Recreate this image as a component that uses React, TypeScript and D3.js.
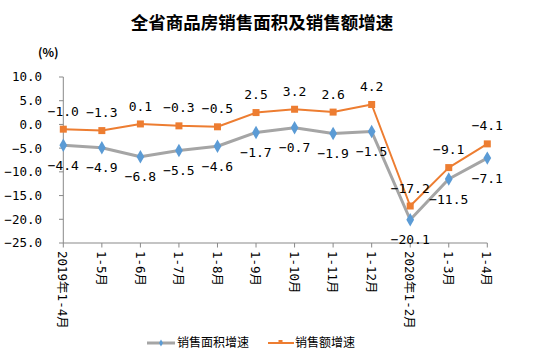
import React from "react";
import * as d3 from "d3";

const categories = ["2019年1-4月", "1-5月", "1-6月", "1-7月", "1-8月", "1-9月", "1-10月", "1-11月", "1-12月", "2020年1-2月", "1-3月", "1-4月"];
const areaGrowth = [-4.4, -4.9, -6.8, -5.5, -4.6, -1.7, -0.7, -1.9, -1.5, -20.1, -11.5, -7.1];
const amountGrowth = [-1.0, -1.3, 0.1, -0.3, -0.5, 2.5, 3.2, 2.6, 4.2, -17.2, -9.1, -4.1];
const yTicks = [10, 5, 0, -5, -10, -15, -20, -25];
const seriesNames = ["销售面积增速", "销售额增速"];
const title = "全省商品房销售面积及销售额增速";

const W = 555, H = 356;
const monoFont = "'DejaVu Sans Mono', 'Noto Sans CJK SC', monospace";
const cjkFont = "'Noto Sans CJK SC', sans-serif";

export default function App() {
  const x = d3.scalePoint<string>().domain(categories).range([63.3, 487.3]).padding(0);
  const y = d3.scaleLinear().domain([-25, 10]).range([243, 77]);
  const line = d3.line<number>().x((_, i) => x(categories[i])!).y(d => y(d));
  const gray = "#a5a5a5", blue = "#5b9bd5", orange = "#ed7d31";
  const diamond = d3.symbol().type(d3.symbolDiamond).size(52)()!;
  const fmt = d3.format(".1f");

  return (
    <svg width={W} height={H} style={{ position: "absolute", left: 0, top: 0, background: "#fff" }} xmlns="http://www.w3.org/2000/svg">
      <text x={262} y={29} textAnchor="middle" fontFamily={cjkFont} fontWeight="bold" fontSize={17.5} fill="#000">{title}</text>
      <text x={38} y={57} fontFamily={cjkFont} fontWeight="bold" fontSize={12} fill="#000">(%)</text>

      {/* y axis */}
      <line x1={63.3} x2={63.3} y1={y(10)} y2={y(-25)} stroke="#898989" strokeWidth={1} />
      {yTicks.map(t => (
        <g key={t}>
          <line x1={59} x2={63.3} y1={y(t)} y2={y(t)} stroke="#898989" />
          <text x={42} y={y(t)} dy="0.35em" textAnchor="end" fontFamily={monoFont} fontSize={12.5} fill="#000">{fmt(t)}</text>
        </g>
      ))}
      {/* x axis */}
      <line x1={63.3} x2={487.3} y1={y(-25)} y2={y(-25)} stroke="#898989" />
      {categories.map(c => (
        <g key={c}>
          <line x1={x(c)!} x2={x(c)!} y1={y(-25)} y2={y(-25) + 4.5} stroke="#898989" />
          <text transform={`translate(${x(c)! - 0.5},${251}) rotate(90)`} dy="0.35em" textAnchor="start" fontFamily={monoFont} fontSize={12.5} fill="#000">{c}</text>
        </g>
      ))}

      {/* series lines */}
      <path d={line(areaGrowth)!} fill="none" stroke={gray} strokeWidth={3} strokeLinejoin="round" />
      <path d={line(amountGrowth)!} fill="none" stroke={orange} strokeWidth={2} strokeLinejoin="round" />
      {areaGrowth.map((v, i) => (
        <path key={"a" + i} d={diamond} transform={`translate(${x(categories[i])},${y(v)})`} fill={blue} />
      ))}
      {amountGrowth.map((v, i) => (
        <rect key={"b" + i} x={x(categories[i])! - 3.5} y={y(v) - 3.5} width={7} height={7} fill={orange} />
      ))}
      {areaGrowth.map((v, i) => (
        <text key={"la" + i} x={x(categories[i])!} y={y(v) + 20} dy="0.35em" textAnchor="middle" fontFamily={monoFont} fontSize={13} fill="#000">{fmt(v)}</text>
      ))}
      {amountGrowth.map((v, i) => (
        <text key={"lb" + i} x={x(categories[i])!} y={y(v) - 18} dy="0.35em" textAnchor="middle" fontFamily={monoFont} fontSize={13} fill="#000">{fmt(v)}</text>
      ))}

      {/* legend */}
      <line x1={147} x2={175} y1={343} y2={343} stroke={gray} strokeWidth={3} />
      <path d={d3.symbol().type(d3.symbolDiamond).size(14)()!} transform="translate(161,343)" fill={blue} />
      <text x={177} y={343} dy="0.35em" fontFamily={cjkFont} fontSize={12} fill="#000">{seriesNames[0]}</text>
      <line x1={268} x2={294} y1={343} y2={343} stroke={orange} strokeWidth={2} />
      <rect x={278.5} y={340} width={4} height={4} fill={orange} />
      <text x={295} y={343} dy="0.35em" fontFamily={cjkFont} fontSize={12} fill="#000">{seriesNames[1]}</text>
    </svg>
  );
}
